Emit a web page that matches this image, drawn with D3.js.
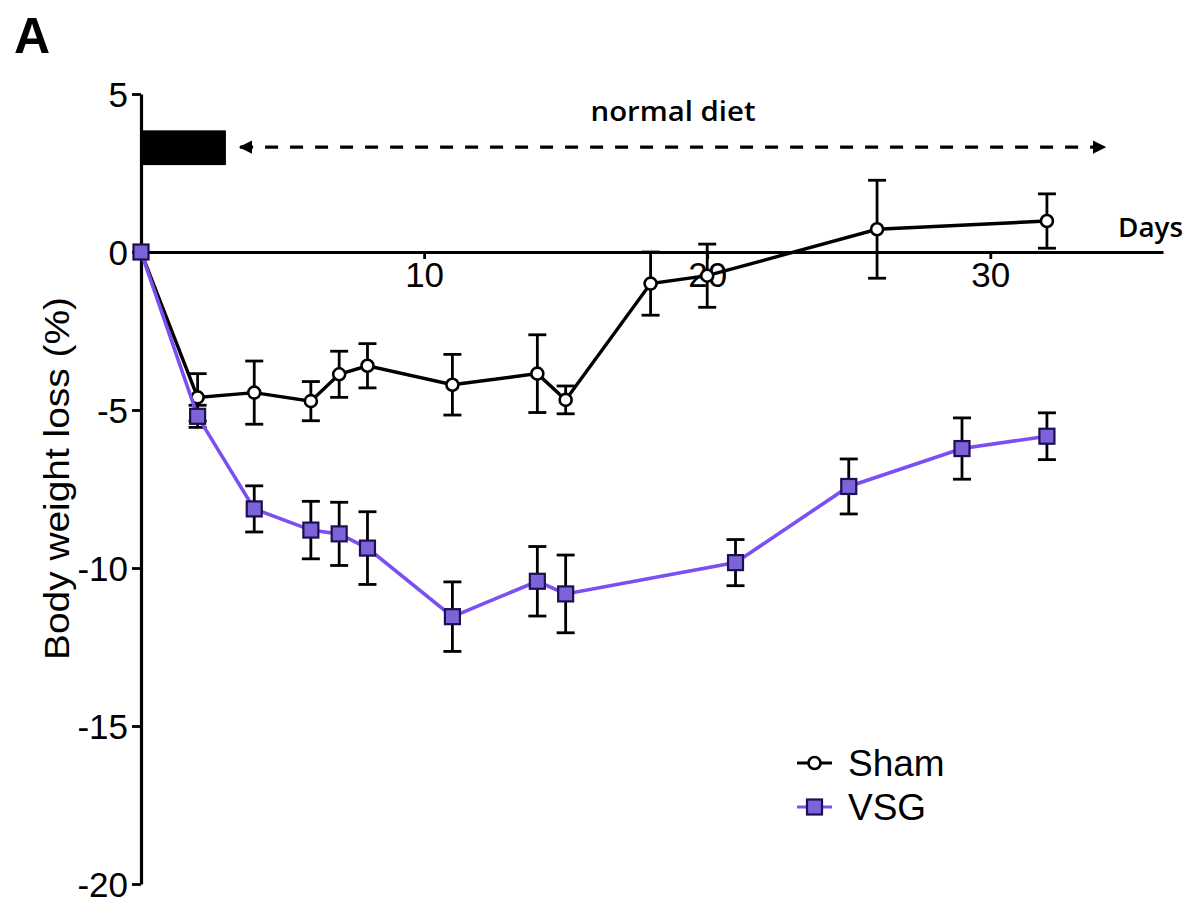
<!DOCTYPE html>
<html>
<head>
<meta charset="utf-8">
<script src="https://cdn.jsdelivr.net/npm/d3@7"></script>
<style>
  html, body { margin: 0; padding: 0; background: #fff; }
  svg { display: block; }
</style>
</head>
<body>
<svg id="chart" width="1190" height="903"></svg>
<script>
// ---- data ----
const shamDays = [0, 2, 4, 6, 7, 8, 11, 14, 15, 18, 20, 26, 32];
const shamMean = [0, -4.6, -4.45, -4.72, -3.87, -3.6, -4.2, -3.85, -4.68, -1.0, -0.75, 0.72, 0.98];
const shamSem  = [0, 0.75, 1.0, 0.62, 0.73, 0.7, 0.96, 1.23, 0.44, 1.0, 1.0, 1.55, 0.86];

const vsgDays = [0, 2, 4, 6, 7, 8, 11, 14, 15, 21, 25, 29, 32];
const vsgMean = [0, -5.2, -8.13, -8.8, -8.92, -9.37, -11.54, -10.42, -10.82, -9.83, -7.42, -6.22, -5.83];
const vsgSem  = [0, 0.35, 0.73, 0.91, 1.0, 1.15, 1.1, 1.1, 1.23, 0.73, 0.87, 0.97, 0.74];

const yTicks = [5, 0, -5, -10, -15, -20];
const xTicks = [10, 20, 30];
const seriesNames = ["Sham", "VSG"];

// annotation data
const dietBar = { x0: 0, x1: 3, y0: 2.75, y1: 3.85 };
const dietArrow = { x0: 3.5, x1: 34.05, y: 3.32, label: "normal diet" };

// ---- layout ----
const svg = d3.select("#chart");
const x = d3.scaleLinear().domain([0, 36.1]).range([141, 1163]);
const y = d3.scaleLinear().domain([-20, 5]).range([884, 94]);

const VSG_LINE = "#7b4ff2";
const VSG_FILL = "#7d62d9";
const VSG_STROKE = "#1c1150";
const FONT = "Liberation Sans, Arial, Helvetica, sans-serif";
const LW = 3.2;

// defs: arrowheads
const defs = svg.append("defs");
defs.append("marker").attr("id", "arrowEnd")
  .attr("viewBox", "0 0 10 10").attr("refX", 9).attr("refY", 5)
  .attr("markerWidth", 4.2).attr("markerHeight", 4.2).attr("markerUnits", "strokeWidth")
  .attr("orient", "auto")
  .append("path").attr("d", "M0,0 L10,5 L0,10 Z").attr("fill", "#000");
defs.append("marker").attr("id", "arrowStart")
  .attr("viewBox", "0 0 10 10").attr("refX", 1).attr("refY", 5)
  .attr("markerWidth", 4.2).attr("markerHeight", 4.2).attr("markerUnits", "strokeWidth")
  .attr("orient", "auto")
  .append("path").attr("d", "M10,0 L0,5 L10,10 Z").attr("fill", "#000");

// panel label
svg.append("text").attr("x", 14).attr("y", 53)
  .attr("font-family", FONT).attr("font-weight", "bold").attr("font-size", 50)
  .text("A");

// axes
const yAxis = d3.axisLeft(y).tickValues(yTicks).tickSize(9).tickSizeOuter(0).tickPadding(4)
  .tickFormat(d => String(d));
const gy = svg.append("g").attr("transform", `translate(${x(0)},0)`).call(yAxis);
gy.select(".domain").attr("stroke-width", LW);
gy.selectAll(".tick line").attr("stroke-width", 2.8);
gy.selectAll(".tick text").attr("font-family", FONT).attr("font-size", 35).attr("fill", "#000")
  .attr("dy", "0.36em");

const xAxis = d3.axisBottom(x).tickValues(xTicks).tickSize(7).tickSizeOuter(0).tickPadding(3)
  .tickFormat(d => String(d));
const gx = svg.append("g").attr("transform", `translate(0,${y(0)})`).call(xAxis);
gx.select(".domain").attr("stroke-width", LW);
gx.selectAll(".tick line").attr("stroke-width", 2.8);
gx.selectAll(".tick text").attr("font-family", FONT).attr("font-size", 35).attr("fill", "#000");

// y label
svg.append("text")
  .attr("transform", `translate(69,${(297 + 660) / 2}) rotate(-90)`)
  .attr("text-anchor", "middle")
  .attr("font-family", FONT).attr("font-size", 35)
  .attr("textLength", 363).attr("lengthAdjust", "spacingAndGlyphs")
  .text("Body weight loss (%)");

// Days label
svg.append("text").attr("x", 1118).attr("y", 237)
  .attr("font-family", "Open Sans, sans-serif").attr("font-weight", 600).attr("font-size", 27)
  .attr("textLength", 65).attr("lengthAdjust", "spacingAndGlyphs")
  .text("Days");

// diet bar
svg.append("rect")
  .attr("x", x(dietBar.x0)).attr("y", y(dietBar.y1))
  .attr("width", x(dietBar.x1) - x(dietBar.x0)).attr("height", y(dietBar.y0) - y(dietBar.y1))
  .attr("fill", "#000");

// dashed arrow
svg.append("line")
  .attr("x1", x(dietArrow.x0)).attr("x2", x(dietArrow.x1))
  .attr("y1", y(dietArrow.y)).attr("y2", y(dietArrow.y))
  .attr("stroke", "#000").attr("stroke-width", 3.2)
  .attr("stroke-dasharray", "13,12")
  .attr("marker-start", "url(#arrowStart)").attr("marker-end", "url(#arrowEnd)");
svg.append("text").attr("x", 673).attr("y", 121).attr("text-anchor", "middle")
  .attr("font-family", "Open Sans, sans-serif").attr("font-weight", 600).attr("font-size", 27)
  .attr("textLength", 165).attr("lengthAdjust", "spacingAndGlyphs")
  .text(dietArrow.label);

// ---- series ----
const sham = shamDays.map((d, i) => ({ d, m: shamMean[i], s: shamSem[i] }));
const vsg = vsgDays.map((d, i) => ({ d, m: vsgMean[i], s: vsgSem[i] }));

const line = d3.line().x(p => x(p.d)).y(p => y(p.m));

function errorBars(data) {
  const g = svg.append("g").attr("stroke", "#000").attr("stroke-width", 2.8).attr("fill", "none");
  data.filter(p => p.s > 0).forEach(p => {
    const cx = x(p.d);
    g.append("line").attr("x1", cx).attr("x2", cx).attr("y1", y(p.m + p.s)).attr("y2", y(p.m - p.s));
    g.append("line").attr("x1", cx - 9).attr("x2", cx + 9).attr("y1", y(p.m + p.s)).attr("y2", y(p.m + p.s));
    g.append("line").attr("x1", cx - 9).attr("x2", cx + 9).attr("y1", y(p.m - p.s)).attr("y2", y(p.m - p.s));
  });
}

// Sham
errorBars(sham);
svg.append("path").datum(sham).attr("d", line)
  .attr("fill", "none").attr("stroke", "#000").attr("stroke-width", 3.4);
svg.append("g").selectAll("circle").data(sham).join("circle")
  .attr("cx", p => x(p.d)).attr("cy", p => y(p.m)).attr("r", 6)
  .attr("fill", "#fff").attr("stroke", "#000").attr("stroke-width", 2.6);

// VSG
errorBars(vsg);
svg.append("path").datum(vsg).attr("d", line)
  .attr("fill", "none").attr("stroke", VSG_LINE).attr("stroke-width", 3.6);
svg.append("g").selectAll("rect").data(vsg).join("rect")
  .attr("x", p => x(p.d) - 7.5).attr("y", p => y(p.m) - 7.5)
  .attr("width", 15).attr("height", 15)
  .attr("fill", VSG_FILL).attr("stroke", VSG_STROKE).attr("stroke-width", 2.2);

// ---- legend ----
const legend = svg.append("g").attr("transform", "translate(797,0)");
const legY = [763, 807];
seriesNames.forEach((name, i) => {
  const yy = legY[i];
  legend.append("line").attr("x1", 0).attr("x2", 35).attr("y1", yy).attr("y2", yy)
    .attr("stroke", i === 0 ? "#000" : VSG_LINE).attr("stroke-width", 3.2);
  if (i === 0) {
    legend.append("circle").attr("cx", 17.5).attr("cy", yy).attr("r", 6)
      .attr("fill", "#fff").attr("stroke", "#000").attr("stroke-width", 2.6);
  } else {
    legend.append("rect").attr("x", 10).attr("y", yy - 7.5).attr("width", 15).attr("height", 15)
      .attr("fill", VSG_FILL).attr("stroke", VSG_STROKE).attr("stroke-width", 2.2);
  }
  legend.append("text").attr("x", 51).attr("y", yy + 13)
    .attr("font-family", FONT).attr("font-size", 37).attr("fill", "#000")
    .text(name);
});
</script>
</body>
</html>
